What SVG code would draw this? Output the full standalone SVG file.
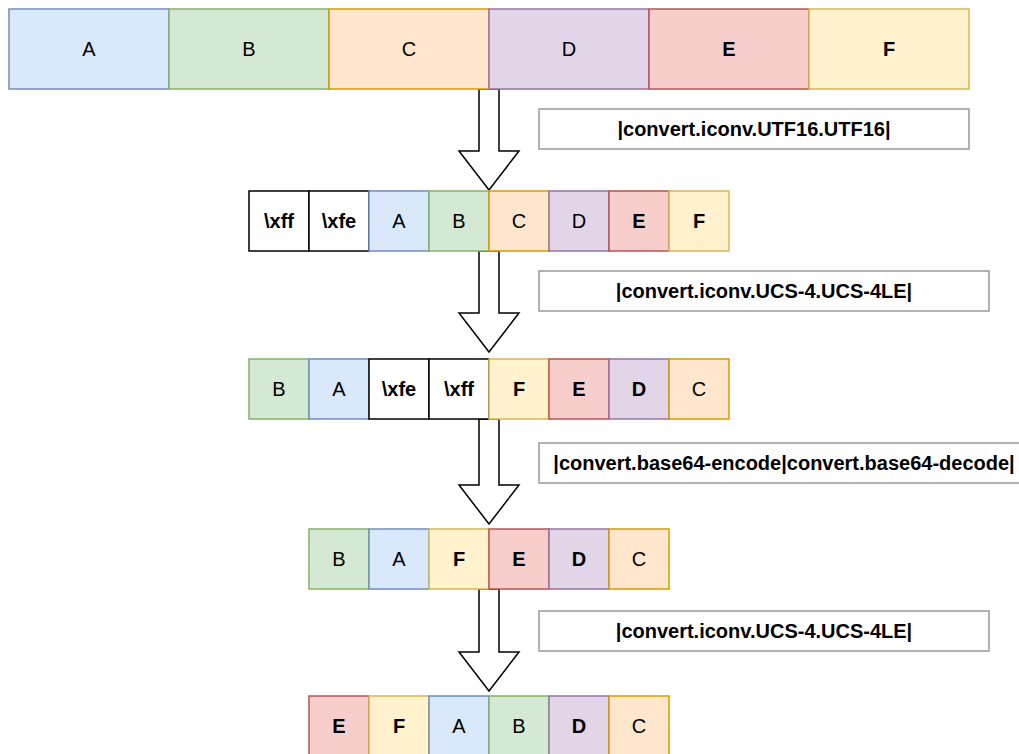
<svg xmlns="http://www.w3.org/2000/svg" width="1019" height="754" viewBox="0 0 1019 754">
<style>
text{font-family:"Liberation Sans",Arial,sans-serif;font-size:20px;fill:#000;text-anchor:middle}
.b{font-weight:bold}
rect{stroke-width:1.5}
.blue{fill:#dae8fc;stroke:#6c8ebf}
.green{fill:#d5e8d4;stroke:#82b366}
.orange{fill:#ffe6cc;stroke:#d79b00}
.purple{fill:#e1d5e7;stroke:#9673a6}
.red{fill:#f8cecc;stroke:#b85450}
.yellow{fill:#fff2cc;stroke:#d6b656}
.plain{fill:#fff;stroke:#000}
.label{fill:#fff;stroke:#999;stroke-width:1.5}
.arrow{fill:#fff;stroke:#000;stroke-width:1.5;stroke-linejoin:miter}
</style>
<rect width="1019" height="754" fill="#fff"/>
<g id="connectors">
<polygon class="arrow" points="479,89 499,89 499,151 519,151 489,190 459,151 479,151"/>
<polygon class="arrow" points="479,251 499,251 499,313 519,313 489,352 459,313 479,313"/>
<polygon class="arrow" points="479,419 499,419 499,485 519,485 489,524 459,485 479,485"/>
<polygon class="arrow" points="479,589 499,589 499,652 519,652 489,691 459,652 479,652"/>
</g>
<g id="row1">
<g id="r1-A"><rect class="blue" x="9" y="9" width="160" height="80"/><text x="89" y="56">A</text></g>
<g id="r1-B"><rect class="green" x="169" y="9" width="160" height="80"/><text x="249" y="56">B</text></g>
<g id="r1-C"><rect class="orange" x="329" y="9" width="160" height="80"/><text x="409" y="56">C</text></g>
<g id="r1-D"><rect class="purple" x="489" y="9" width="160" height="80"/><text x="569" y="56">D</text></g>
<g id="r1-E"><rect class="red" x="649" y="9" width="160" height="80"/><text class="b" x="729" y="56">E</text></g>
<g id="r1-F"><rect class="yellow" x="809" y="9" width="160" height="80"/><text class="b" x="889" y="56">F</text></g>
</g>
<g id="label1"><rect class="label" x="539" y="109" width="430" height="40"/><text class="b" x="754" y="136">|convert.iconv.UTF16.UTF16|</text></g>
<g id="row2">
<g id="r2-xff"><rect class="plain" x="249" y="191" width="60" height="60"/><text class="b" x="279" y="228">\xff</text></g>
<g id="r2-xfe"><rect class="plain" x="309" y="191" width="60" height="60"/><text class="b" x="339" y="228">\xfe</text></g>
<g id="r2-A"><rect class="blue" x="369" y="191" width="60" height="60"/><text x="399" y="228">A</text></g>
<g id="r2-B"><rect class="green" x="429" y="191" width="60" height="60"/><text x="459" y="228">B</text></g>
<g id="r2-C"><rect class="orange" x="489" y="191" width="60" height="60"/><text x="519" y="228">C</text></g>
<g id="r2-D"><rect class="purple" x="549" y="191" width="60" height="60"/><text x="579" y="228">D</text></g>
<g id="r2-E"><rect class="red" x="609" y="191" width="60" height="60"/><text class="b" x="639" y="228">E</text></g>
<g id="r2-F"><rect class="yellow" x="669" y="191" width="60" height="60"/><text class="b" x="699" y="228">F</text></g>
</g>
<g id="label2"><rect class="label" x="539" y="271" width="450" height="40"/><text class="b" x="764" y="298">|convert.iconv.UCS-4.UCS-4LE|</text></g>
<g id="row3">
<g id="r3-B"><rect class="green" x="249" y="359" width="60" height="60"/><text x="279" y="396">B</text></g>
<g id="r3-A"><rect class="blue" x="309" y="359" width="60" height="60"/><text x="339" y="396">A</text></g>
<g id="r3-xfe"><rect class="plain" x="369" y="359" width="60" height="60"/><text class="b" x="399" y="396">\xfe</text></g>
<g id="r3-xff"><rect class="plain" x="429" y="359" width="60" height="60"/><text class="b" x="459" y="396">\xff</text></g>
<g id="r3-F"><rect class="yellow" x="489" y="359" width="60" height="60"/><text class="b" x="519" y="396">F</text></g>
<g id="r3-E"><rect class="red" x="549" y="359" width="60" height="60"/><text class="b" x="579" y="396">E</text></g>
<g id="r3-D"><rect class="purple" x="609" y="359" width="60" height="60"/><text class="b" x="639" y="396">D</text></g>
<g id="r3-C"><rect class="orange" x="669" y="359" width="60" height="60"/><text x="699" y="396">C</text></g>
</g>
<g id="label3"><rect class="label" x="539" y="443" width="490" height="40"/><text class="b" x="784" y="470">|convert.base64-encode|convert.base64-decode|</text></g>
<g id="row4">
<g id="r4-B"><rect class="green" x="309" y="529" width="60" height="60"/><text x="339" y="566">B</text></g>
<g id="r4-A"><rect class="blue" x="369" y="529" width="60" height="60"/><text x="399" y="566">A</text></g>
<g id="r4-F"><rect class="yellow" x="429" y="529" width="60" height="60"/><text class="b" x="459" y="566">F</text></g>
<g id="r4-E"><rect class="red" x="489" y="529" width="60" height="60"/><text class="b" x="519" y="566">E</text></g>
<g id="r4-D"><rect class="purple" x="549" y="529" width="60" height="60"/><text class="b" x="579" y="566">D</text></g>
<g id="r4-C"><rect class="orange" x="609" y="529" width="60" height="60"/><text x="639" y="566">C</text></g>
</g>
<g id="label4"><rect class="label" x="539" y="611" width="450" height="40"/><text class="b" x="764" y="638">|convert.iconv.UCS-4.UCS-4LE|</text></g>
<g id="row5">
<g id="r5-E"><rect class="red" x="309" y="696" width="60" height="60"/><text class="b" x="339" y="733">E</text></g>
<g id="r5-F"><rect class="yellow" x="369" y="696" width="60" height="60"/><text class="b" x="399" y="733">F</text></g>
<g id="r5-A"><rect class="blue" x="429" y="696" width="60" height="60"/><text x="459" y="733">A</text></g>
<g id="r5-B"><rect class="green" x="489" y="696" width="60" height="60"/><text x="519" y="733">B</text></g>
<g id="r5-D"><rect class="purple" x="549" y="696" width="60" height="60"/><text class="b" x="579" y="733">D</text></g>
<g id="r5-C"><rect class="orange" x="609" y="696" width="60" height="60"/><text x="639" y="733">C</text></g>
</g>
</svg>
